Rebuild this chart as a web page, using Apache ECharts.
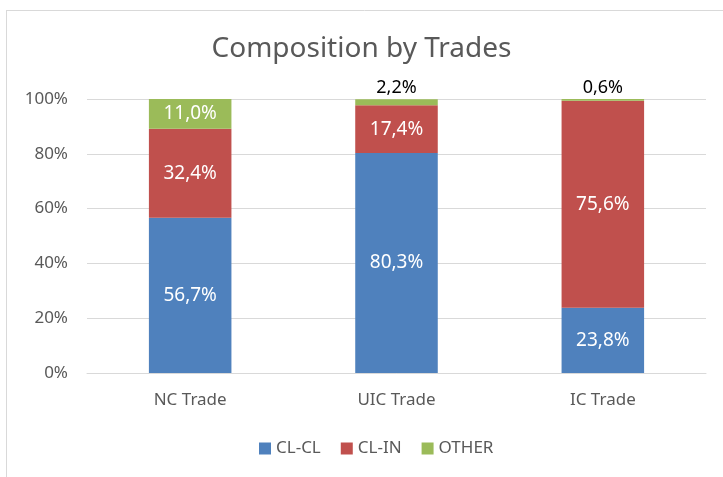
<!DOCTYPE html>
<html>
<head>
<meta charset="utf-8">
<script src="https://cdn.jsdelivr.net/npm/echarts@6/dist/echarts.min.js"></script>
<style>
  html, body { margin: 0; padding: 0; background: #fff; }
  #chart { width: 723px; height: 477px; }
</style>
</head>
<body>
<div id="chart"></div>
<script>
// categories and series values (percent)
var categories = ['NC Trade', 'UIC Trade', 'IC Trade']
var clcl = [56.7, 80.3, 23.8]
var clin = [32.4, 17.4, 75.6]
var other = [11.0, 2.2, 0.6]
// OTHER labels drawn above the bar where the segment is too thin
var otherOutside = [false, true, true]

var FONT = 'Noto Sans'
var GREY = '#595959'

function fmt (v) {
  return v.toFixed(1).replace('.', ',') + '%'
}

var chart = echarts.init(document.getElementById('chart'))

var otherData = other.map(function (v, i) {
  if (otherOutside[i]) {
    return {
      value: v,
      label: { position: 'top', color: '#000', distance: 2, fontSize: 18 }
    }
  }
  return v
})

var labelBase = {
  show: true,
  position: 'inside',
  color: '#fff',
  fontFamily: FONT,
  fontSize: 19,
  formatter: function (p) { return fmt(p.value) }
}

var option = {
  animation: false,
  textStyle: { fontFamily: FONT },
  title: {
    text: 'Composition by Trades',
    left: 'center',
    top: 30,
    textStyle: { color: GREY, fontSize: 28, fontWeight: 'normal', fontFamily: FONT }
  },
  graphic: [
    { type: 'line', shape: { x1: 6, y1: 10.5, x2: 723, y2: 10.5 }, style: { stroke: '#d9d9d9', lineWidth: 1 } },
    { type: 'line', shape: { x1: 6.5, y1: 10, x2: 6.5, y2: 477 }, style: { stroke: '#d9d9d9', lineWidth: 1 } }
  ],
  legend: {
    bottom: 15,
    left: 254,
    itemWidth: 12,
    itemHeight: 12,
    itemGap: 20,
    icon: 'rect',
    textStyle: { color: GREY, fontSize: 17, fontFamily: FONT },
    data: ['CL-CL', 'CL-IN', 'OTHER']
  },
  grid: {
    left: 87,
    right: 17,
    top: 99,
    bottom: 104
  },
  xAxis: {
    type: 'category',
    data: categories,
    axisLine: { lineStyle: { color: '#d9d9d9' } },
    axisTick: { show: false },
    axisLabel: { color: GREY, fontSize: 17, margin: 19 }
  },
  yAxis: {
    type: 'value',
    min: 0,
    max: 100,
    interval: 20,
    axisLine: { show: false },
    axisTick: { show: false },
    axisLabel: { color: GREY, fontSize: 17, margin: 19, formatter: '{value}%' },
    splitLine: { lineStyle: { color: '#d9d9d9' } }
  },
  series: [
    {
      name: 'CL-CL',
      type: 'bar',
      stack: 'total',
      barWidth: '40%',
      itemStyle: { color: '#4f81bd' },
      label: labelBase,
      data: clcl
    },
    {
      name: 'CL-IN',
      type: 'bar',
      stack: 'total',
      itemStyle: { color: '#c0504d' },
      label: labelBase,
      data: clin
    },
    {
      name: 'OTHER',
      type: 'bar',
      stack: 'total',
      itemStyle: { color: '#9bbb59' },
      label: labelBase,
      data: otherData
    }
  ]
}

chart.setOption(option)
</script>
</body>
</html>
